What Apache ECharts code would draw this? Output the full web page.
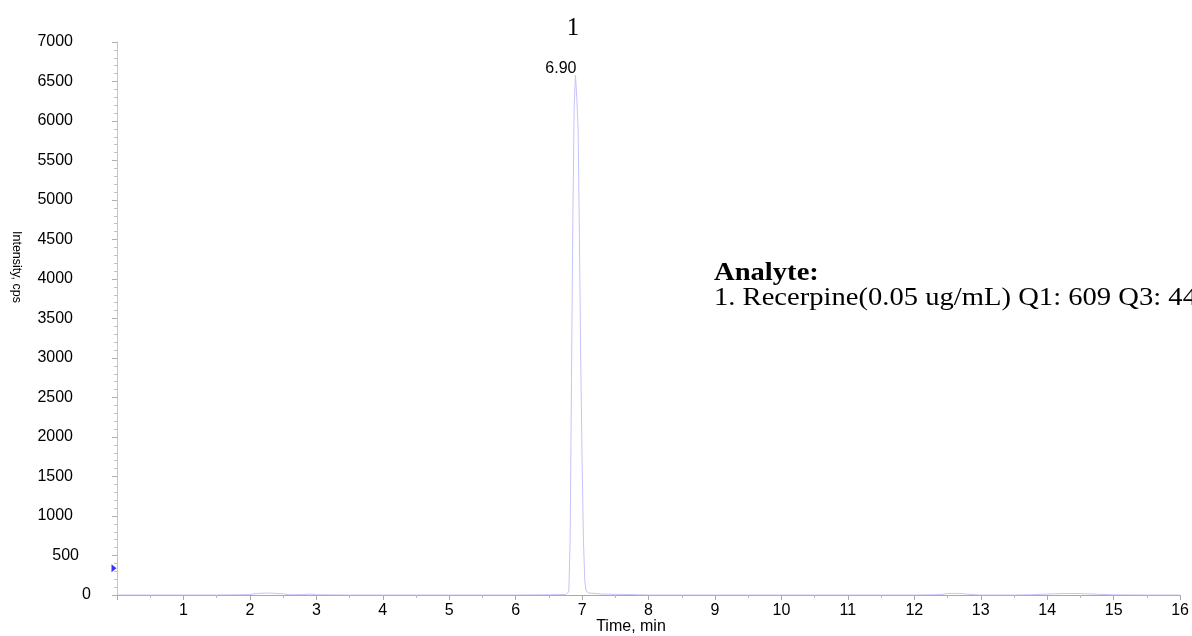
<!DOCTYPE html>
<html>
<head>
<meta charset="utf-8">
<script src="https://cdn.jsdelivr.net/npm/echarts@6/dist/echarts.min.js"></script>
<style>
  html, body { margin: 0; padding: 0; background: #fff; }
  #chart { width: 1192px; height: 636px; }
</style>
</head>
<body>
<div id="chart"></div>
<script>
// retention time (min) and intensity (cps)
var times = [0, 0.5, 1, 1.5, 2.0, 2.1, 2.3, 2.5, 2.6, 2.8, 2.9, 3.0, 3.5, 4, 4.5, 5, 5.5, 6, 6.5,
    6.75, 6.80, 6.82, 6.84, 6.86, 6.88, 6.90, 6.92, 6.94, 6.96, 6.98, 7.00, 7.02, 7.04, 7.06,
    7.1, 7.3, 7.6, 7.85, 8, 9, 10, 11, 12, 12.4, 12.5, 12.7, 12.8, 13, 13.5, 13.75, 14.0, 14.3,
    14.5, 14.8, 15, 15.5, 16];
var intensity = [0, 0, 0, 0, 5, 20, 25, 15, 3, 5, 12, 3, 0, 0, 0, 0, 0, 0, 3,
    5, 40, 700, 2700, 4700, 6150, 6580, 6300, 5900, 4500, 2900, 1700, 700, 180, 50,
    25, 12, 8, 3, 0, 0, 0, 0, 0, 5, 20, 20, 10, 0, 0, 3, 12, 20,
    18, 8, 2, 0, 0];
var markerLevel = 340;   // blue threshold marker on the y axis
var analyteTitle = 'Analyte:';
var analyteLine = '1. Recerpine(0.05 ug/mL) Q1: 609 Q3: 448';

var myChart = echarts.init(document.getElementById('chart'));

var data = times.map(function (t, i) {
    return [t, intensity[i]];
});

var pk = 0;
intensity.forEach(function (v, i) {
    if (v > intensity[pk]) pk = i;
});

var sans = 'Liberation Sans, Arial, sans-serif';
var serif = 'Liberation Serif, Times New Roman, serif';

var option = {
    animation: false,
    backgroundColor: '#fff',
    grid: {left: 117, right: 10, top: 42, bottom: 41},
    xAxis: {
        type: 'value',
        min: 0,
        max: 16,
        interval: 1,
        axisLine: {lineStyle: {color: '#a8a8a8'}},
        axisTick: {length: 5, lineStyle: {color: '#a8a8a8'}},
        minorTick: {show: true, splitNumber: 2, length: 3, lineStyle: {color: '#b8b8b8'}},
        splitLine: {show: false},
        axisLabel: {
            margin: 8,
            color: '#000',
            fontSize: 16,
            fontFamily: sans,
            formatter: function (v) {
                return v === 0 ? '' : v;
            }
        }
    },
    yAxis: {
        type: 'value',
        min: 0,
        max: 7000,
        interval: 500,
        axisLine: {show: true, lineStyle: {color: '#c4c4c4'}},
        axisTick: {show: true, length: 5, lineStyle: {color: '#b0b0b0'}},
        minorTick: {show: true, splitNumber: 5, length: 3, lineStyle: {color: '#c0c0c0'}},
        splitLine: {show: false},
        axisLabel: {
            margin: 26,
            color: '#000',
            fontSize: 16,
            fontFamily: sans,
            formatter: function (v) {
                if (v >= 1000) return '{a|' + v + '}';
                if (v > 0) return '{b|' + v + '}';
                return '{c|' + v + '}';
            },
            rich: {
                a: {fontSize: 16, fontFamily: sans, color: '#000', padding: [0, 18, 0, 0]},
                b: {fontSize: 16, fontFamily: sans, color: '#000', padding: [0, 12, 0, 0]},
                c: {fontSize: 16, fontFamily: sans, color: '#000'}
            }
        }
    },
    series: [{
        name: 'XIC',
        type: 'line',
        data: data,
        showSymbol: false,
        symbol: 'none',
        lineStyle: {color: '#c4c4fa', width: 1},
        z: 3,
        markPoint: {
            symbol: 'circle',
            symbolSize: 0,
            data: [{coord: data[pk], value: times[pk].toFixed(2)}],
            label: {
                show: true,
                position: 'left',
                distance: 0,
                offset: [1, -7],
                color: '#000',
                fontSize: 16,
                fontFamily: sans,
                formatter: '{c}'
            }
        }
    }, {
        name: 'marker',
        type: 'scatter',
        data: [[0, markerLevel]],
        symbol: 'triangle',
        symbolSize: [8, 5],
        symbolRotate: -90,
        symbolOffset: [-3, 0],
        clip: false,
        itemStyle: {color: '#0000ff'},
        z: 4
    }],
    graphic: [{
        type: 'text',
        x: 573, y: 28,
        style: {text: '1', font: '25px ' + serif, fill: '#000', align: 'center', verticalAlign: 'middle'}
    }, {
        type: 'text',
        x: 16, y: 267,
        rotation: -Math.PI / 2,
        style: {text: 'Intensity, cps', font: '12.5px ' + sans, fill: '#000', align: 'center', verticalAlign: 'middle'}
    }, {
        type: 'text',
        x: 631, y: 627,
        style: {text: 'Time, min', font: '16px ' + sans, fill: '#000', align: 'center', verticalAlign: 'middle'}
    }, {
        type: 'text',
        x: 714, y: 273,
        scaleX: 1.1,
        style: {text: analyteTitle, font: 'bold 26px ' + serif, fill: '#000', verticalAlign: 'middle'}
    }, {
        type: 'text',
        x: 714, y: 298,
        scaleX: 1.1,
        style: {text: analyteLine, font: '26px ' + serif, fill: '#000', verticalAlign: 'middle'}
    }]
};

myChart.setOption(option);
</script>
</body>
</html>
